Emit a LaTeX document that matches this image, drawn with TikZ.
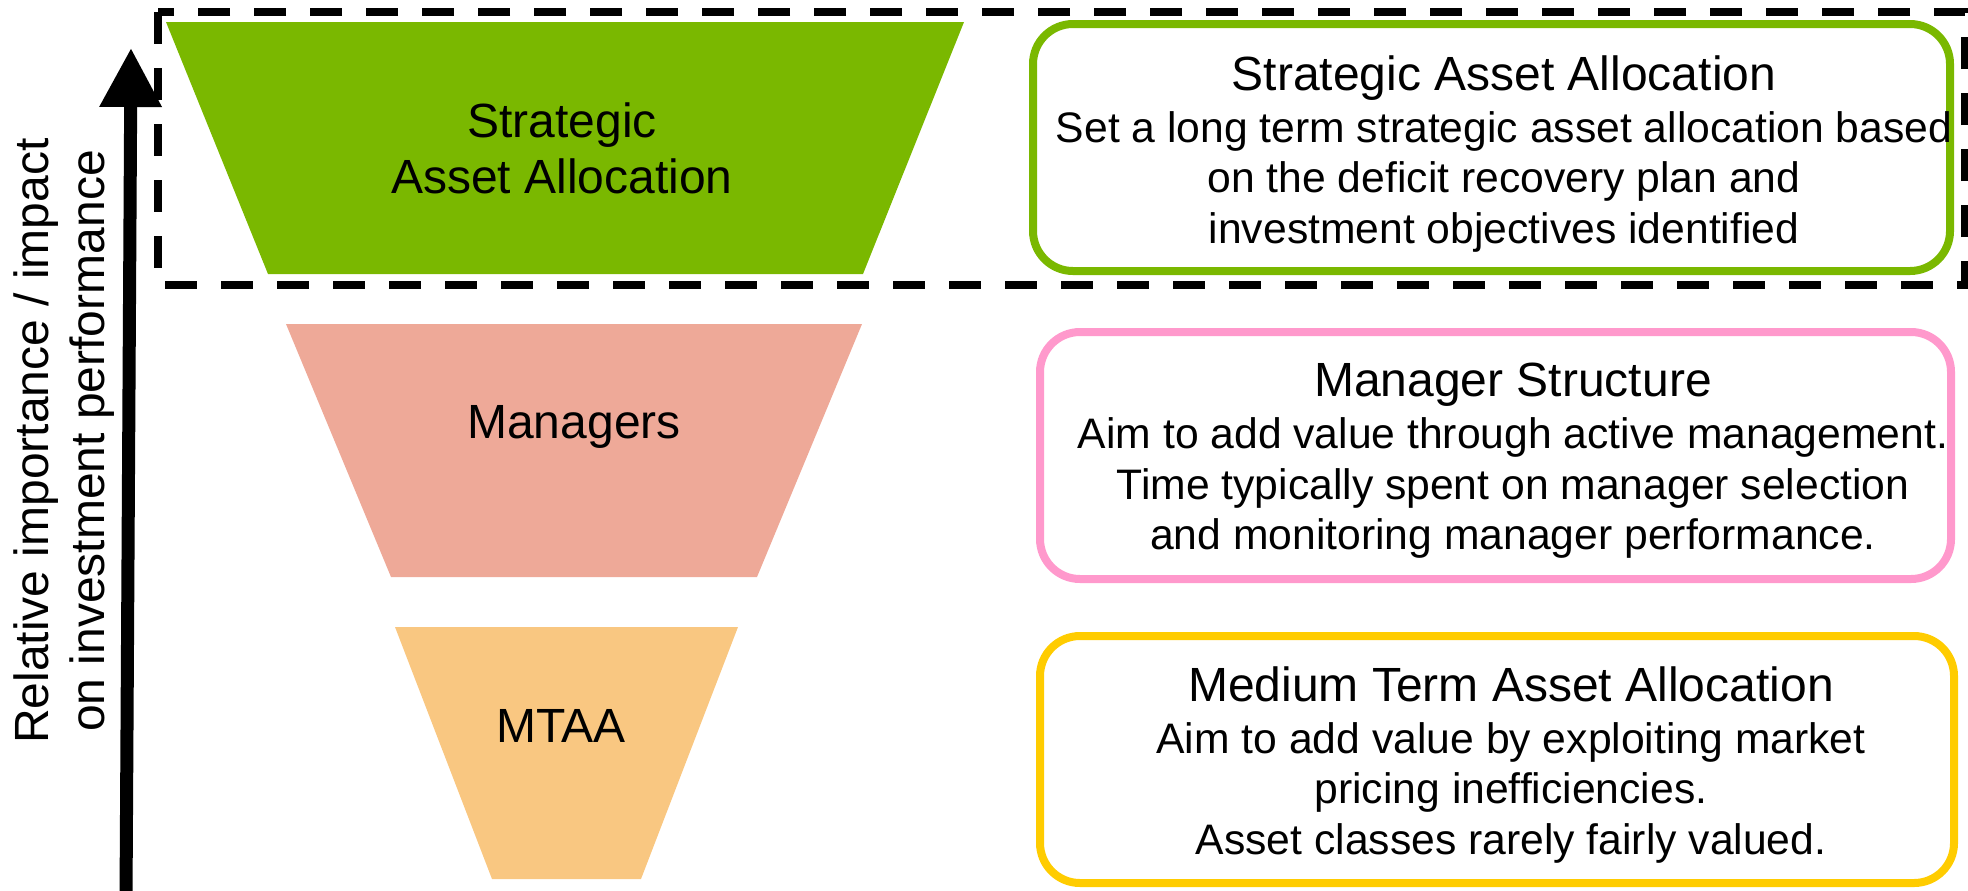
\documentclass[tikz,border=0pt]{standalone}
\usepackage{fontspec}
\setmainfont{Liberation Sans}
\usetikzlibrary{arrows.meta}

\definecolor{sagreen}{RGB}{122,184,0}
\definecolor{mgrsalmon}{RGB}{238,169,152}
\definecolor{mtaaorange}{RGB}{249,199,129}
\definecolor{mgrpink}{RGB}{255,153,204}
\definecolor{mtaayellow}{RGB}{255,204,0}

\newcommand{\headfont}{\fontsize{24pt}{28pt}\selectfont}
\newcommand{\bodyfont}{\fontsize{21.33pt}{25.25pt}\selectfont}

\begin{document}
\begin{tikzpicture}[x=0.5pt, y=-0.5pt,
  tierlabel/.style={font=\headfont, align=center, inner sep=0pt, text=black},
  infobox/.style={draw, line width=4pt, rounded corners=20pt, fill=white, inner sep=0pt},
  boxtext/.style={font=\bodyfont, align=center, inner sep=0pt, text=black, anchor=north},
  focusframe/.style={draw=black, line width=4pt, dash pattern=on 16pt off 12pt},
  axisarrow/.style={draw=black, line width=6.5pt, -{Triangle[length=29.5pt, width=29.5pt]}}
]
\useasboundingbox (0,0) rectangle (1968,890);

% funnel tiers
\fill[sagreen]    (166,22)  -- (964,22)  -- (863,274) -- (268,274) -- cycle;
\fill[mgrsalmon]  (286,324) -- (862,324) -- (757,577) -- (391,577) -- cycle;
\fill[mtaaorange] (395,627) -- (738,627) -- (641,879) -- (492,879) -- cycle;

\node[tierlabel, anchor=north] (sa-tier)  at (562,102) {Strategic\\Asset Allocation};
\node[tierlabel, anchor=base]  (mgr-tier) at (574,438) {Managers};
\node[tierlabel, anchor=base]  (mtaa-tier) at (561,742) {MTAA};

% description boxes
\node[infobox, draw=sagreen, minimum width=458.5pt, minimum height=123.5pt] (sa-box) at (1491.5,147.5) {};
\node[infobox, draw=mgrpink, minimum width=455.5pt, minimum height=123.5pt] (mgr-box) at (1495.5,455.5) {};
\node[infobox, draw=mtaayellow, minimum width=457pt, minimum height=123.5pt] (mtaa-box) at (1497,759.5) {};

\node[boxtext] (sa-text) at (1504,55)
  {{\headfont Strategic Asset Allocation}\\[0.75pt]
   Set a long term strategic asset allocation based\\
   on the deficit recovery plan and\\
   investment objectives identified};
\node[boxtext] (mgr-text) at (1513,363)
  {{\headfont Manager Structure}\\[0.75pt]
   Aim to add value through active management.\\
   Time typically spent on manager selection\\
   and monitoring manager performance.};
\node[boxtext] (mtaa-text) at (1511,666)
  {{\headfont Medium Term Asset Allocation}\\[0.75pt]
   Aim to add value by exploiting market\\
   pricing inefficiencies.\\
   Asset classes rarely fairly valued.};

% dashed frame around the top tier
\draw[focusframe] (158,12) rectangle (1965,285);

% importance axis
\coordinate (axis-foot) at (126,900);
\coordinate (axis-tip) at (131,48);
\draw[axisarrow] (axis-foot) -- (axis-tip);
\node[rotate=90, font=\headfont, align=center, inner sep=0pt] (axis-label) at (64,441)
  {Relative importance / impact\\on investment performance};
\end{tikzpicture}
\end{document}
